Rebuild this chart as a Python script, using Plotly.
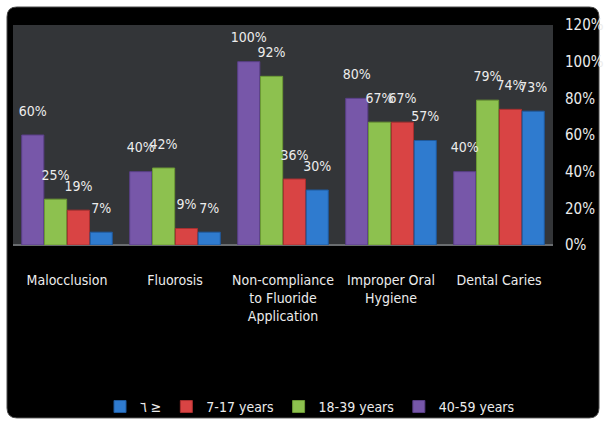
import plotly.graph_objects as go

# Categories and series values (share of patients)
categories = [
    "Malocclusion",
    "Fluorosis",
    "Non-compliance<br>to Fluoride<br>Application",
    "Improper Oral<br>Hygiene",
    "Dental Caries",
]
age_40_59 = [0.60, 0.40, 1.00, 0.80, 0.40]
age_18_39 = [0.25, 0.42, 0.92, 0.67, 0.79]
age_7_17 = [0.19, 0.09, 0.36, 0.67, 0.74]
age_le6 = [0.07, 0.07, 0.30, 0.57, 0.73]

series_names = ["40-59 years", "18-39 years", "7-17 years", "٦ ≥"]
series_values = [age_40_59, age_18_39, age_7_17, age_le6]
series_colors = ["#7757a9", "#8dc14f", "#d94444", "#2f7bcf"]
edge_colors = ["#5a3f88", "#6c9a35", "#a83030", "#1f5a9e"]

y_ticks = [0, 0.2, 0.4, 0.6, 0.8, 1.0, 1.2]
y_tick_labels = ["0%", "20%", "40%", "60%", "80%", "100%", "120%"]

FONT = "DejaVu Sans Condensed, Liberation Sans Narrow, Liberation Sans, sans-serif"
TEXT = "#ececec"

fig = go.Figure()

for name, vals, col, edge in zip(series_names, series_values, series_colors, edge_colors):
    fig.add_trace(go.Bar(
        x=categories, y=vals, name=name,
        marker=dict(color=col, line=dict(color=edge, width=1)),
        hoverinfo="skip",
    ))

# value labels, grouped the same way as the bars; the invisible marker
# lifts each label clear of its bar top
for name, vals in zip(series_names, series_values):
    fig.add_trace(go.Scatter(
        x=categories, y=vals, mode="markers+text",
        text=[f"{round(v * 100)}%" for v in vals],
        textposition="top center",
        textfont=dict(family=FONT, size=14, color=TEXT),
        marker=dict(size=24, opacity=0),
        showlegend=False, hoverinfo="skip", cliponaxis=False,
    ))

# rounded black card behind the chart (paper coordinates)
L, R, B, T = -0.0111, 1.0852, -0.786, 1.0818
rx, ry = 0.018, 0.045
card = (f"M {L+rx},{B} L {R-rx},{B} Q {R},{B} {R},{B+ry} "
        f"L {R},{T-ry} Q {R},{T} {R-rx},{T} "
        f"L {L+rx},{T} Q {L},{T} {L},{T-ry} "
        f"L {L},{B+ry} Q {L},{B} {L+rx},{B} Z")

fig.update_layout(
    width=606, height=421,
    margin=dict(l=13, r=53, t=25, b=176, autoexpand=False),
    paper_bgcolor="white",
    plot_bgcolor="#333538",
    barmode="group", bargap=0.155, bargroupgap=0.03,
    scattermode="group", scattergap=0.155,
    font=dict(family=FONT, size=15, color=TEXT),
    shapes=[
        dict(type="path", path=card, xref="paper", yref="paper",
             fillcolor="black", line=dict(color="#4a4a4a", width=1),
             layer="below"),
        dict(type="rect", x0=0, x1=1, y0=0, y1=1, xref="paper", yref="paper",
             fillcolor="#333538", line=dict(width=0), layer="below"),
    ],
    showlegend=True,
    legend=dict(
        orientation="h", traceorder="reversed",
        x=0.55, xanchor="center", y=-0.736, yanchor="middle",
        font=dict(family=FONT, size=14, color=TEXT),
        bgcolor="rgba(0,0,0,0)", itemwidth=30,
    ),
    xaxis=dict(
        showgrid=False, zeroline=False, showline=False, automargin=False,
        ticks="", ticklabelstandoff=25, tickangle=0,
        tickfont=dict(family=FONT, size=14, color=TEXT),
        fixedrange=True,
    ),
    yaxis=dict(
        range=[0, 1.2], side="right", automargin=False,
        tickvals=y_ticks, ticktext=y_tick_labels,
        showgrid=False, zeroline=True, zerolinecolor="#6a6d70", zerolinewidth=2,
        showline=False, ticks="", ticklabelstandoff=11,
        tickfont=dict(family=FONT, size=15, color=TEXT),
        fixedrange=True,
    ),
)

fig.write_html("out.html")
